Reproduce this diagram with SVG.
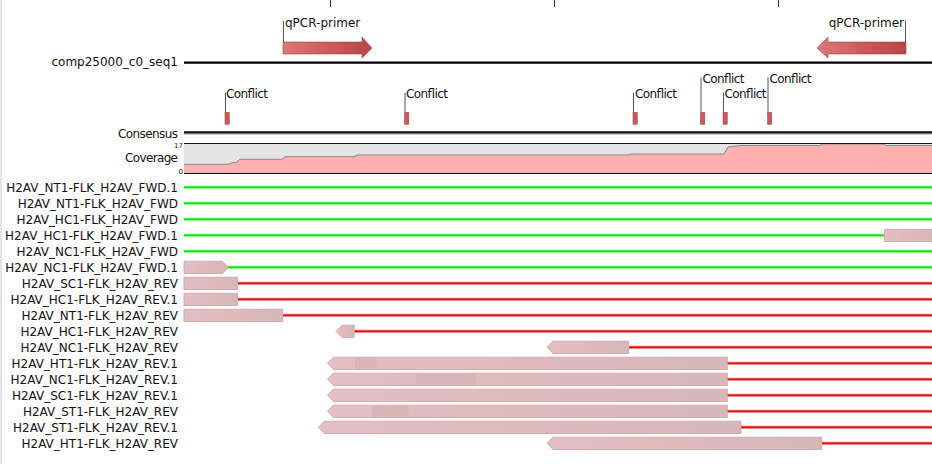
<svg xmlns="http://www.w3.org/2000/svg" width="932" height="464" viewBox="0 0 932 464">
<defs>
<style>
.lbl{font-family:"DejaVu Sans","Liberation Sans",sans-serif;font-size:12px;fill:#111;text-anchor:end}
.sm{font-family:"DejaVu Sans","Liberation Sans",sans-serif;font-size:12px;fill:#111}
.tiny{font-family:"DejaVu Sans","Liberation Sans",sans-serif;font-size:7px;fill:#222;text-anchor:end}
.lead{stroke:#555;stroke-width:1;fill:none}
.mk{fill:#c9575b;stroke:#a84448;stroke-width:0.5}
.gO{stroke:#7dff7d;stroke-width:3.2;fill:none}
.gI{stroke:#11e011;stroke-width:1.5;fill:none}
.rO{stroke:#ff8a8a;stroke-width:3.2;fill:none}
.rI{stroke:#f00000;stroke-width:1.5;fill:none}
.bar{fill:url(#barG);stroke:#c8a6a8;stroke-width:0.8}
.dk{fill:#d4b0b2}
.tick{stroke:#333;stroke-width:1}
</style>
<linearGradient id="barG" x1="0" y1="0" x2="1" y2="0">
<stop offset="0" stop-color="#e4bfc1"/>
<stop offset="0.5" stop-color="#e0b9bb"/>
<stop offset="1" stop-color="#d5b8b9"/>
</linearGradient>
<linearGradient id="primG" x1="0" y1="0" x2="1" y2="0">
<stop offset="0" stop-color="#dc7878"/>
<stop offset="0.6" stop-color="#c95656"/>
<stop offset="1" stop-color="#b54848"/>
</linearGradient>
</defs>
<rect width="932" height="464" fill="#fff"/>
<rect x="0" y="0" width="2" height="464" fill="#e4e4e4"/>

<g id="ruler">
<line class="tick" x1="330.5" y1="0" x2="330.5" y2="7"/>
<line class="tick" x1="554.5" y1="0" x2="554.5" y2="7"/>
<line class="tick" x1="778.5" y1="0" x2="778.5" y2="7"/>
</g>

<g id="primer-fwd">
<text x="285" y="26.5" class="sm">qPCR-primer</text>
<polygon points="283,42 362,42 362,37 372,48 362,58 362,54 283,54" fill="url(#primG)" stroke="#a84040" stroke-width="0.6"/>
</g>
<g id="primer-rev">
<text x="904" y="26.5" class="sm" style="text-anchor:end">qPCR-primer</text>
<polygon points="906,42 828,42 828,37 817,48 828,58 828,54 906,54" fill="url(#primG)" stroke="#a84040" stroke-width="0.6"/>
</g>

<g id="reference">
<text class="lbl" x="178" y="66">comp25000_c0_seq1</text>
<line x1="184" y1="62.7" x2="932" y2="62.7" stroke="#000" stroke-width="2.2"/>
</g>

<g id="conflicts">
<text class="sm" x="226" y="98" textLength="42">Conflict</text>
<rect class="mk" x="225" y="112.3" width="4.3" height="12"/>
<text class="sm" x="406" y="98" textLength="42">Conflict</text>
<rect class="mk" x="404.5" y="112.3" width="4.3" height="12"/>
<text class="sm" x="635" y="98" textLength="42">Conflict</text>
<rect class="mk" x="633" y="112.3" width="4.3" height="12"/>
<text class="sm" x="702.5" y="83" textLength="42">Conflict</text>
<rect class="mk" x="700.5" y="112.3" width="4.3" height="12"/>
<text class="sm" x="724.5" y="98" textLength="42">Conflict</text>
<rect class="mk" x="723" y="112.3" width="4.3" height="12"/>
<text class="sm" x="769.5" y="83" textLength="42">Conflict</text>
<rect class="mk" x="767.5" y="112.3" width="4.3" height="12"/>
</g>

<g id="consensus">
<text class="sm" x="178" y="137.5" style="text-anchor:end" textLength="60">Consensus</text>
<line x1="184" y1="132.2" x2="932" y2="132.2" stroke="#111" stroke-width="2"/>
<line x1="184" y1="133.8" x2="932" y2="133.8" stroke="#555" stroke-width="1"/>
</g>

<g id="coverage">
<text class="sm" x="178" y="161.5" style="text-anchor:end" textLength="53">Coverage</text>
<text class="tiny" x="183" y="147.5">17</text>
<text class="tiny" x="183" y="173.5">0</text>
<rect x="184" y="143.5" width="748" height="30" fill="#e5e5e5"/>
<polygon points="184,173.5 184,164.3 228,164.3 232,162.7 236,162.5 240,159.3 282,159.3 285,156.7 354,156.7 357,155 627,155 631,154 724,154 728,147 731,146.5 741,145.5 820,145.5 822,144 884,144 886,145.5 932,145.5 932,173.5" fill="#ffb0b0"/>
<polyline points="184,164.3 228,164.3 232,162.7 236,162.5 240,159.3 282,159.3 285,156.7 354,156.7 357,155 627,155 631,154 724,154 728,147 731,146.5 741,145.5 820,145.5 822,144 884,144 886,145.5 932,145.5" fill="none" stroke="#888" stroke-width="1"/>
<line x1="184" y1="143.5" x2="932" y2="143.5" stroke="#111" stroke-width="1"/>
<line x1="184" y1="173.5" x2="932" y2="173.5" stroke="#111" stroke-width="1.2"/>
</g>

<g id="read-labels">
<text class="lbl" x="178" y="191.5">H2AV_NT1-FLK_H2AV_FWD.1</text>
<text class="lbl" x="178" y="207.5">H2AV_NT1-FLK_H2AV_FWD</text>
<text class="lbl" x="178" y="223.5">H2AV_HC1-FLK_H2AV_FWD</text>
<text class="lbl" x="178" y="239.5">H2AV_HC1-FLK_H2AV_FWD.1</text>
<text class="lbl" x="178" y="255.5">H2AV_NC1-FLK_H2AV_FWD</text>
<text class="lbl" x="178" y="271.5">H2AV_NC1-FLK_H2AV_FWD.1</text>
<text class="lbl" x="178" y="287.5">H2AV_SC1-FLK_H2AV_REV</text>
<text class="lbl" x="178" y="303.5">H2AV_HC1-FLK_H2AV_REV.1</text>
<text class="lbl" x="178" y="319.5">H2AV_NT1-FLK_H2AV_REV</text>
<text class="lbl" x="178" y="335.5">H2AV_HC1-FLK_H2AV_REV</text>
<text class="lbl" x="178" y="351.5">H2AV_NC1-FLK_H2AV_REV</text>
<text class="lbl" x="178" y="367.5">H2AV_HT1-FLK_H2AV_REV.1</text>
<text class="lbl" x="178" y="383.5">H2AV_NC1-FLK_H2AV_REV.1</text>
<text class="lbl" x="178" y="399.5">H2AV_SC1-FLK_H2AV_REV.1</text>
<text class="lbl" x="178" y="415.5">H2AV_ST1-FLK_H2AV_REV</text>
<text class="lbl" x="178" y="431.5">H2AV_ST1-FLK_H2AV_REV.1</text>
<text class="lbl" x="178" y="447.5">H2AV_HT1-FLK_H2AV_REV</text>
</g>

<g id="connectors">
<line class="lead" x1="283.5" y1="21" x2="283.5" y2="42"/>
<line class="lead" x1="905.5" y1="20.5" x2="905.5" y2="42"/>
<line class="lead" x1="225.5" y1="92.7" x2="225.5" y2="112.3"/>
<line class="lead" x1="405" y1="92.7" x2="405" y2="112.3"/>
<line class="lead" x1="633.5" y1="92.7" x2="633.5" y2="112.3"/>
<line class="lead" x1="701" y1="77.5" x2="701" y2="112.3"/>
<line class="lead" x1="723.5" y1="92.7" x2="723.5" y2="112.3"/>
<line class="lead" x1="768" y1="77.5" x2="768" y2="112.3"/>
</g>

<g id="reads">
<g id="r1"><line class="gO" x1="184" y1="187.3" x2="932" y2="187.3"/><line class="gI" x1="184" y1="187.3" x2="932" y2="187.3"/></g>
<g id="r2"><line class="gO" x1="184" y1="203.3" x2="932" y2="203.3"/><line class="gI" x1="184" y1="203.3" x2="932" y2="203.3"/></g>
<g id="r3"><line class="gO" x1="184" y1="219.3" x2="932" y2="219.3"/><line class="gI" x1="184" y1="219.3" x2="932" y2="219.3"/></g>
<g id="r4"><line class="gO" x1="184" y1="235.3" x2="884" y2="235.3"/><line class="gI" x1="184" y1="235.3" x2="884" y2="235.3"/><rect class="bar" x="884.3" y="229.3" width="49" height="12.3"/></g>
<g id="r5"><line class="gO" x1="184" y1="251.3" x2="932" y2="251.3"/><line class="gI" x1="184" y1="251.3" x2="932" y2="251.3"/></g>
<g id="r6"><line class="gO" x1="227" y1="267.3" x2="932" y2="267.3"/><line class="gI" x1="227" y1="267.3" x2="932" y2="267.3"/><polygon class="bar" points="184,261.2 222.5,261.2 228.5,267.3 222.5,273.5 184,273.5"/></g>
<g id="r7"><line class="rO" x1="238" y1="283.3" x2="932" y2="283.3"/><line class="rI" x1="238" y1="283.3" x2="932" y2="283.3"/><rect class="bar" x="184" y="277.2" width="53.7" height="12.3"/></g>
<g id="r8"><line class="rO" x1="238" y1="299.3" x2="932" y2="299.3"/><line class="rI" x1="238" y1="299.3" x2="932" y2="299.3"/><rect class="bar" x="184" y="293.2" width="53.7" height="12.3"/></g>
<g id="r9"><line class="rO" x1="283" y1="315.3" x2="932" y2="315.3"/><line class="rI" x1="283" y1="315.3" x2="932" y2="315.3"/><rect class="bar" x="184" y="309.2" width="98.7" height="12.3"/></g>
<g id="r10"><line class="rO" x1="354" y1="331.3" x2="932" y2="331.3"/><line class="rI" x1="354" y1="331.3" x2="932" y2="331.3"/><polygon class="bar" points="336,331.3 342,325.2 354.3,325.2 354.3,337.5 342,337.5"/></g>
<g id="r11"><line class="rO" x1="629" y1="347.3" x2="932" y2="347.3"/><line class="rI" x1="629" y1="347.3" x2="932" y2="347.3"/><polygon class="bar" points="547,347.3 553,341.2 628.7,341.2 628.7,353.5 553,353.5"/></g>
<g id="r12"><line class="rO" x1="727" y1="363.3" x2="932" y2="363.3"/><line class="rI" x1="727" y1="363.3" x2="932" y2="363.3"/><polygon class="bar" points="327.3,363.3 333.5,357.2 727.3,357.2 727.3,369.5 333.5,369.5"/><rect class="dk" x="355" y="357.6" width="21.7" height="11.5" opacity="0.7"/></g>
<g id="r13"><line class="rO" x1="727" y1="379.3" x2="932" y2="379.3"/><line class="rI" x1="727" y1="379.3" x2="932" y2="379.3"/><polygon class="bar" points="327.3,379.3 333.5,373.2 727.3,373.2 727.3,385.5 333.5,385.5"/><rect class="dk" x="416" y="373.6" width="59.7" height="11.5" opacity="0.6"/></g>
<g id="r14"><line class="rO" x1="727" y1="395.3" x2="932" y2="395.3"/><line class="rI" x1="727" y1="395.3" x2="932" y2="395.3"/><polygon class="bar" points="327.3,395.3 333.5,389.2 727.3,389.2 727.3,401.5 333.5,401.5"/></g>
<g id="r15"><line class="rO" x1="727" y1="411.3" x2="932" y2="411.3"/><line class="rI" x1="727" y1="411.3" x2="932" y2="411.3"/><polygon class="bar" points="327.3,411.3 333.5,405.2 727.3,405.2 727.3,417.5 333.5,417.5"/><rect class="dk" x="372" y="405.6" width="36.3" height="11.5" opacity="0.6"/></g>
<g id="r16"><line class="rO" x1="741" y1="427.3" x2="932" y2="427.3"/><line class="rI" x1="741" y1="427.3" x2="932" y2="427.3"/><polygon class="bar" points="318.3,427.3 324.5,421.2 741,421.2 741,433.5 324.5,433.5"/></g>
<g id="r17"><line class="rO" x1="822" y1="443.3" x2="932" y2="443.3"/><line class="rI" x1="822" y1="443.3" x2="932" y2="443.3"/><polygon class="bar" points="547,443.3 553,437.2 821.7,437.2 821.7,449.5 553,449.5"/></g>
</g>
</svg>
